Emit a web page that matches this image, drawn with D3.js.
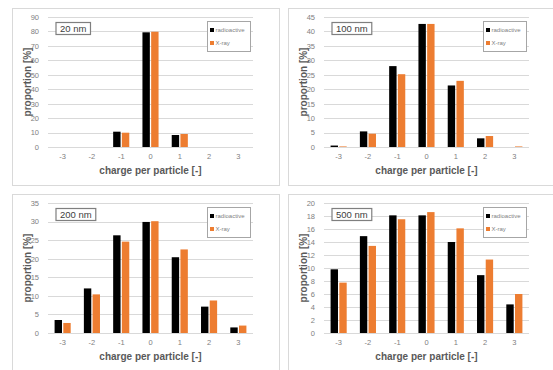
<!DOCTYPE html>
<html>
<head>
<meta charset="utf-8">
<script src="https://cdn.jsdelivr.net/npm/d3@7"></script>
<style>
  body { margin: 0; background: #fff; }
  svg { display: block; font-family: "Liberation Sans", Arial, sans-serif; }
</style>
</head>
<body>
<div id="container"></div>
<script>
// charge classes on the x axis
const charges = ["-3", "-2", "-1", "0", "1", "2", "3"];
const seriesNames = ["radioactive", "X-ray"];
const seriesColors = ["#000000", "#ed7d31"];

// panel titles and y axis settings
const panelTitles = ["20 nm", "100 nm", "200 nm", "500 nm"];
const yMax = [90, 45, 35, 20];
const yStep = [10, 5, 5, 2];

// proportion [%]
const radio20 = [0, 0, 10.6, 79.4, 8.3, 0, 0];
const xray20 = [0, 0, 9.9, 79.8, 9.0, 0, 0];
const radio100 = [0.5, 5.4, 28.0, 42.6, 21.3, 3.0, 0];
const xray100 = [0.2, 4.6, 25.2, 42.6, 22.9, 3.8, 0.2];
const radio200 = [3.5, 12.0, 26.3, 29.9, 20.4, 7.1, 1.5];
const xray200 = [2.7, 10.4, 24.6, 30.1, 22.5, 8.75, 2.0];
const radio500 = [9.8, 14.9, 18.1, 18.1, 14.0, 8.9, 4.4];
const xray500 = [7.75, 13.4, 17.5, 18.6, 16.1, 11.3, 6.0];

const panelData = [
  [radio20, xray20],
  [radio100, xray100],
  [radio200, xray200],
  [radio500, xray500]
];

const w = 553, h = 370;
const origins = [[12, 8], [288, 8], [12, 194], [288, 194]];

const svg = d3.select("#container").append("svg")
  .attr("width", w).attr("height", h);

panelData.forEach((pd, k) => {
  const [px, py] = origins[k];
  const g = svg.append("g").attr("transform", "translate(" + px + "," + py + ")");

  // chart area frame
  g.append("rect")
    .attr("x", 0.5).attr("y", 0.5)
    .attr("width", 267).attr("height", 177)
    .attr("fill", "#fff").attr("stroke", "#d9d9d9");

  const left = 36, right = 241, top = 9, bottom = 139;

  const x0 = d3.scaleBand().domain(charges).range([left, right])
    .paddingInner(0.45).paddingOuter(0.225);
  const x1 = d3.scaleBand().domain(seriesNames).range([0, x0.bandwidth()])
    .paddingInner(0.15);
  const y = d3.scaleLinear().domain([0, yMax[k]]).range([bottom, top]);
  const ticks = d3.range(0, yMax[k] + yStep[k] / 2, yStep[k]);

  // gridlines
  g.selectAll(".grid").data(ticks).enter().append("line")
    .attr("x1", left).attr("x2", right)
    .attr("y1", d => Math.round(y(d)) + 0.5).attr("y2", d => Math.round(y(d)) + 0.5)
    .attr("stroke", "#d9d9d9").attr("stroke-width", 1);

  const yAxis = d3.axisLeft(y).tickValues(ticks).tickSize(0).tickPadding(9);
  const ya = g.append("g").attr("transform", "translate(" + left + ",0)").call(yAxis);
  ya.select(".domain").remove();
  ya.selectAll("text").attr("fill", "#808080").style("font-size", "7.5px");

  const xAxis = d3.axisBottom(x0).tickSize(0).tickPadding(7);
  const xa = g.append("g").attr("transform", "translate(0," + bottom + ")").call(xAxis);
  xa.select(".domain").remove();
  xa.selectAll("text").attr("fill", "#808080").style("font-size", "7.5px");

  // bars
  seriesNames.forEach((s, j) => {
    g.selectAll(".bar" + j).data(pd[j]).enter().append("rect")
      .attr("x", (d, i) => x0(charges[i]) + x1(s))
      .attr("width", x1.bandwidth())
      .attr("y", d => y(d))
      .attr("height", d => bottom - y(d))
      .attr("fill", seriesColors[j]);
  });

  // axis titles
  g.append("text")
    .attr("x", (left + right) / 2).attr("y", bottom + 27)
    .attr("text-anchor", "middle")
    .attr("fill", "#595959").attr("font-weight", "bold")
    .style("font-size", "10px")
    .text("charge per particle [-]");

  g.append("text")
    .attr("transform", "rotate(-90)")
    .attr("x", -(top + bottom) / 2).attr("y", 19)
    .attr("text-anchor", "middle")
    .attr("fill", "#595959").attr("font-weight", "bold")
    .style("font-size", "10px")
    .text("proportion [%]");

  // size label box
  const box = g.append("rect");
  const lbl = g.append("text")
    .attr("x", left + 12).attr("y", top + 14.5)
    .attr("fill", "#404040")
    .style("font-size", "9.5px")
    .text(panelTitles[k]);
  const bb = lbl.node().getBBox();
  box.attr("x", bb.x - 4).attr("y", top + 5.5)
    .attr("width", bb.width + 8).attr("height", 12)
    .attr("fill", "#fff").attr("stroke", "#7f7f7f").attr("stroke-width", 1.2);

  // legend
  const lg = g.append("g").attr("transform", "translate(" + (right - 46) + "," + (top + 4) + ")");
  lg.append("rect")
    .attr("x", 0.5).attr("y", 0.5).attr("width", 43).attr("height", 30)
    .attr("fill", "#fff").attr("stroke", "#a6a6a6");
  seriesNames.forEach((s, j) => {
    lg.append("rect")
      .attr("x", 3).attr("y", 7 + j * 13)
      .attr("width", 4).attr("height", 4)
      .attr("fill", seriesColors[j]);
    lg.append("text")
      .attr("x", 8.5).attr("y", 11 + j * 13)
      .attr("fill", "#7f7f7f")
      .style("font-size", "6px")
      .text(s);
  });
});
</script>
</body>
</html>
